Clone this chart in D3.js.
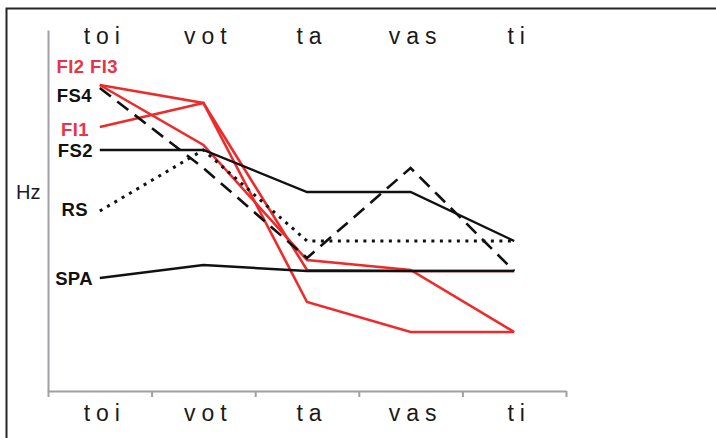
<!DOCTYPE html>
<html>
<head>
<meta charset="utf-8">
<script src="https://cdn.jsdelivr.net/npm/d3@7"></script>
<style>
  html, body { margin: 0; padding: 0; background: #fff; }
  svg { display: block; }
</style>
</head>
<body>
<svg id="chart" width="716" height="438"></svg>
<script>
// ---- data (relative pitch, arbitrary Hz units) ----
const categories = ["toi", "vot", "ta", "vas", "ti"];
const seriesNames = ["FI1", "FI2", "FI3", "FS4", "FS2", "RS", "SPA"];
const FI1 = [264, 288, 121, 120, 120];
const FI2 = [306, 288, 89, 59, 59];
const FI3 = [306, 246, 131, 121, 59];
const FS4 = [303, 223, 133, 223, 120];
const FS2 = [241, 241, 199, 199, 150];
const RS  = [180, 241, 150, 150, 150];
const SPA = [113, 126, 120, 120, 120];
const yAxisLabel = "Hz";

const seriesValues = { FI1, FI2, FI3, FS4, FS2, RS, SPA };

(function () {
// ---- styles ----
const RED = "#ee2b2b";
const RED_TEXT = "#e8344a";
const BLACK = "#111";
const styles = {
  FI1: { color: RED, dash: null, width: 2.6 },
  FI2: { color: RED, dash: null, width: 2.6 },
  FI3: { color: RED, dash: null, width: 2.6 },
  FS4: { color: BLACK, dash: "14,8", width: 2.6 },
  FS2: { color: BLACK, dash: null, width: 2.4 },
  RS:  { color: BLACK, dash: "3,5.5", width: 3 },
  SPA: { color: BLACK, dash: null, width: 2.4 }
};

const svg = d3.select("#chart");

// frame border
svg.append("rect")
  .attr("x", 6.5).attr("y", 8.5)
  .attr("width", 800).attr("height", 600)
  .attr("fill", "none").attr("stroke", "#262626").attr("stroke-width", 2);

const mLeft = 48, mRight = 566, mTop = 30, mBottom = 391;

const x = d3.scaleBand().domain(categories).range([mLeft, mRight]).paddingInner(0).paddingOuter(0);
const xEdge = d3.scaleLinear().domain([0, categories.length]).range([mLeft, mRight]);
const y = d3.scaleLinear().domain([0, 361]).range([mBottom, mTop]);
const cx = c => x(c) + x.bandwidth() / 2;

// axes
const AXIS = "#a0a0a4";
const gx = svg.append("g").attr("transform", `translate(0,${mBottom})`)
  .call(d3.axisBottom(xEdge).tickValues(d3.range(categories.length + 1)).tickFormat("").tickSize(6).tickSizeOuter(0));
gx.select(".domain").attr("stroke", AXIS).attr("stroke-width", 2);
gx.selectAll(".tick line").attr("stroke", AXIS).attr("stroke-width", 2);

const gy = svg.append("g").attr("transform", `translate(${mLeft},0)`)
  .call(d3.axisLeft(y).tickValues([]).tickSizeOuter(0));
gy.select(".domain").attr("stroke", AXIS).attr("stroke-width", 2);

// category labels (bottom axis labels and top repeat)
const LS = 6;
const catFont = "Liberation Sans, Arial, sans-serif";
function catLabels(baseline) {
  svg.append("g").selectAll("text").data(categories).join("text")
    .attr("x", d => cx(d) + LS / 2 + 2)
    .attr("y", baseline)
    .attr("text-anchor", "middle")
    .attr("font-family", catFont)
    .attr("font-size", 23)
    .attr("letter-spacing", LS)
    .attr("fill", "#1a1a1a")
    .text(d => d);
}
catLabels(44);
catLabels(421);

// y axis label
svg.append("text").attr("x", 16).attr("y", 199)
  .attr("font-family", catFont).attr("font-size", 20).attr("fill", "#1a1a2a")
  .text(yAxisLabel);

// lines
const line = d3.line().x((d, i) => cx(categories[i])).y(d => y(d));
const drawOrder = ["FI1", "FI2", "FI3", "FS4", "RS", "FS2", "SPA"];
svg.append("g").selectAll("path").data(drawOrder).join("path")
  .attr("d", k => line(seriesValues[k]))
  .attr("fill", "none")
  .attr("stroke", k => styles[k].color)
  .attr("stroke-width", k => styles[k].width)
  .attr("stroke-dasharray", k => styles[k].dash)
  .attr("stroke-linejoin", "miter");

// series labels at line start
const labelFont = "Liberation Sans, Arial, sans-serif";
const labels = [
  { text: "FI2 FI3", key: "FI2", color: RED_TEXT, xEnd: 118, dy: -19 },
  { text: "FS4", key: "FS4", color: BLACK, xEnd: 92, dy: 7 },
  { text: "FI1", key: "FI1", color: RED_TEXT, xEnd: 89, dy: 2 },
  { text: "FS2", key: "FS2", color: BLACK, xEnd: 93, dy: 0 },
  { text: "RS", key: "RS", color: BLACK, xEnd: 88, dy: -2 },
  { text: "SPA", key: "SPA", color: BLACK, xEnd: 93, dy: 0 }
];
svg.append("g").selectAll("text").data(labels).join("text")
  .attr("x", d => d.xEnd)
  .attr("y", d => y(seriesValues[d.key][0]) + d.dy)
  .attr("dy", "0.36em")
  .attr("text-anchor", "end")
  .attr("font-family", labelFont)
  .attr("font-weight", "bold")
  .attr("font-size", 18.5)
  .attr("letter-spacing", 0.4)
  .attr("fill", d => d.color)
  .text(d => d.text);
})();
</script>
</body>
</html>
